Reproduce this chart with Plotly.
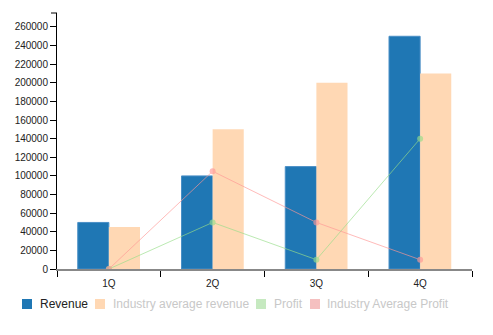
import plotly.graph_objects as go

quarters = ["1Q", "2Q", "3Q", "4Q"]
revenue = [50000, 100000, 110000, 250000]
industry_revenue = [45000, 150000, 200000, 210000]
profit = [0, 50000, 10000, 140000]
industry_profit = [0, 105000, 50000, 10000]

legend_names = ["Revenue", "Industry average revenue", "Profit", "Industry Average Profit"]
legend_colors = ["#1f77b4", "#ffd8b4", "#c6e9c0", "#f5c0c0"]
legend_text_colors = ["#222222", "#c8c8c8", "#c8c8c8", "#c8c8c8"]

W, H = 493, 335
L, R, T, B = 57, 21, 13, 66
PW, PH = W - L - R, H - T - B

fig = go.Figure()
fig.add_trace(go.Bar(x=quarters, y=revenue, name=legend_names[0],
                     marker=dict(color="#1f77b4", line=dict(color="#4a8fc6", width=1))))
fig.add_trace(go.Bar(x=quarters, y=industry_revenue, name=legend_names[1],
                     marker=dict(color="#ffd8b4", line=dict(width=0))))
fig.add_trace(go.Scatter(x=quarters, y=profit, name=legend_names[2], mode="lines+markers",
                         line=dict(color="#98df8a", width=1), marker=dict(size=6, color="#98df8a"),
                         opacity=0.65))
fig.add_trace(go.Scatter(x=quarters, y=industry_profit, name=legend_names[3], mode="lines+markers",
                         line=dict(color="#ff9896", width=1), marker=dict(size=6, color="#ff9896"),
                         opacity=0.65))

def px_x(px):
    return (px - L) / PW

def px_y(py):
    return (H - B - py) / PH

shapes = []
annotations = []
sq_x = [22, 95, 256, 310]
tx_x = [38, 111, 272, 325]
for i, name in enumerate(legend_names):
    shapes.append(dict(type="rect", xref="paper", yref="paper",
                       x0=px_x(sq_x[i]), x1=px_x(sq_x[i] + 10),
                       y0=px_y(309), y1=px_y(299),
                       fillcolor=legend_colors[i], line=dict(width=0)))
    annotations.append(dict(xref="paper", yref="paper", x=px_x(tx_x[i]), y=px_y(304),
                            text=name, showarrow=False, xanchor="left", yanchor="middle",
                            font=dict(size=12, color=legend_text_colors[i],
                                      family="Liberation Sans, Arial, sans-serif")))
# top outer tick of the y axis domain
shapes.append(dict(type="line", xref="paper", yref="paper", x0=px_x(51), x1=0, y0=1, y1=1,
                   line=dict(color="#000000", width=1)))

fig.update_layout(
    width=W, height=H,
    margin=dict(l=L, r=R, t=T, b=B),
    paper_bgcolor="white", plot_bgcolor="white",
    barmode="group", bargap=0.4, bargroupgap=0,
    showlegend=False,
    font=dict(family="Liberation Sans, Arial, sans-serif", size=10, color="#222222"),
    shapes=shapes, annotations=annotations,
    xaxis=dict(type="category", showgrid=False, zeroline=False, showline=True,
               linecolor="#888888", linewidth=2, ticks="outside", ticklen=6,
               tickcolor="#000000", tickwidth=1, tickson="boundaries",
               ticklabelstandoff=4,
               tickfont=dict(size=10, color="#222222")),
    yaxis=dict(range=[0, 275000], dtick=20000, showgrid=False, zeroline=False,
               showline=True, linecolor="#000000", linewidth=1, ticks="outside",
               ticklen=6, tickcolor="#000000", tickformat="d",
               tickfont=dict(size=10, color="#222222")),
)

fig.write_html("out.html")
